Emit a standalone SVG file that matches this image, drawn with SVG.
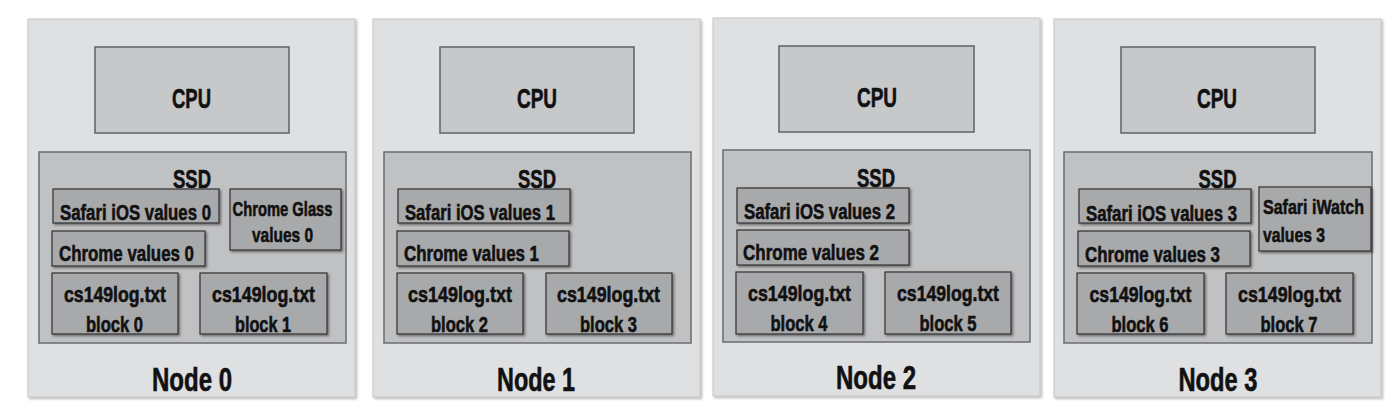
<svg xmlns="http://www.w3.org/2000/svg" width="1398" height="420" viewBox="0 0 1398 420">
<defs>
<filter id="sh" x="-10%" y="-10%" width="125%" height="130%">
<feDropShadow dx="1.5" dy="1.5" stdDeviation="1.2" flood-color="#000" flood-opacity="0.45"/>
</filter>
<filter id="psh" x="-5%" y="-5%" width="110%" height="110%">
<feDropShadow dx="1.5" dy="1.5" stdDeviation="1" flood-color="#000" flood-opacity="0.3"/>
</filter>
</defs>
<style>
.panel{fill:#dfe0e2;stroke:#c4c5c7;stroke-width:1;filter:url(#psh)}
.cpu{fill:#c7c8c9;stroke:#5f6062;stroke-width:1.5}
.ssd{fill:#c0c1c3;stroke:#6a6b6d;stroke-width:1.5}
.box{fill:#a8a9ab;stroke:#333;stroke-width:1.2;filter:url(#sh)}
text{font-family:"Liberation Sans",Arial,sans-serif;font-weight:bold;fill:#111;stroke:#111;stroke-width:0.6}
.big{font-size:28px;text-anchor:middle}
.ssdl{font-size:25px;text-anchor:middle}
.lbl{font-size:22.5px}
.sm{font-size:21px}
.mid{text-anchor:middle}
.node{font-size:33px;text-anchor:middle}
</style>
<g id="connectors"/>

<g id="node0">
<rect class="panel" x="28" y="19" width="327" height="378"/>
<g id="cpu0"><rect class="cpu" x="95" y="47" width="194" height="86"/><text class="big" x="191.5" y="108" textLength="39" lengthAdjust="spacingAndGlyphs">CPU</text></g>
<g id="ssd0"><rect class="ssd" x="39" y="152" width="307" height="191"/><text class="ssdl" x="192" y="188" textLength="38" lengthAdjust="spacingAndGlyphs">SSD</text></g>
<g id="safari0"><rect class="box" x="53" y="189" width="166" height="34"/><text class="lbl" transform="translate(60,219.5) scale(0.745,1)" x="0" y="0" textLength="202.7" lengthAdjust="spacingAndGlyphs">Safari iOS values 0</text></g>
<g id="glass0"><rect class="box" x="230" y="189" width="111" height="61"/><text class="sm mid" x="282.5" y="216" textLength="100" lengthAdjust="spacingAndGlyphs">Chrome Glass</text><text class="sm mid" x="282.5" y="242" textLength="61" lengthAdjust="spacingAndGlyphs">values 0</text></g>
<g id="chrome0"><rect class="box" x="52" y="231" width="153" height="35"/><text class="lbl" x="59" y="261" textLength="135" lengthAdjust="spacingAndGlyphs">Chrome values 0</text></g>
<g id="block0"><rect class="box" x="52" y="273" width="126" height="61"/><text class="lbl mid" x="115" y="302" textLength="102" lengthAdjust="spacingAndGlyphs">cs149log.txt</text><text class="lbl mid" x="114.5" y="332" textLength="57" lengthAdjust="spacingAndGlyphs">block 0</text></g>
<g id="block1"><rect class="box" x="200" y="273" width="127" height="61"/><text class="lbl mid" x="263.5" y="302" textLength="103" lengthAdjust="spacingAndGlyphs">cs149log.txt</text><text class="lbl mid" x="263" y="332" textLength="56" lengthAdjust="spacingAndGlyphs">block 1</text></g>
<text class="node" x="192" y="391" textLength="80" lengthAdjust="spacingAndGlyphs">Node 0</text>
</g>

<g id="node1">
<rect class="panel" x="373" y="19" width="327" height="378"/>
<g id="cpu1"><rect class="cpu" x="440" y="47" width="194" height="86"/><text class="big" x="537" y="108" textLength="40" lengthAdjust="spacingAndGlyphs">CPU</text></g>
<g id="ssd1"><rect class="ssd" x="384" y="152" width="307" height="191"/><text class="ssdl" x="537" y="188" textLength="38" lengthAdjust="spacingAndGlyphs">SSD</text></g>
<g id="safari1"><rect class="box" x="398" y="189" width="172" height="34"/><text class="lbl" x="405" y="220" textLength="150" lengthAdjust="spacingAndGlyphs">Safari iOS values 1</text></g>
<g id="chrome1"><rect class="box" x="397" y="231" width="172" height="35"/><text class="lbl" x="404" y="261" textLength="135" lengthAdjust="spacingAndGlyphs">Chrome values 1</text></g>
<g id="block2"><rect class="box" x="397" y="273" width="126" height="61"/><text class="lbl mid" x="460" y="302" textLength="104" lengthAdjust="spacingAndGlyphs">cs149log.txt</text><text class="lbl mid" x="459.5" y="332" textLength="57" lengthAdjust="spacingAndGlyphs">block 2</text></g>
<g id="block3"><rect class="box" x="546" y="273" width="126" height="61"/><text class="lbl mid" x="608.5" y="302" textLength="103" lengthAdjust="spacingAndGlyphs">cs149log.txt</text><text class="lbl mid" x="608.5" y="332" textLength="57" lengthAdjust="spacingAndGlyphs">block 3</text></g>
<text class="node" x="536" y="391" textLength="78" lengthAdjust="spacingAndGlyphs">Node 1</text>
</g>

<g id="node2">
<rect class="panel" x="713" y="18" width="327" height="378"/>
<g id="cpu2"><rect class="cpu" x="779" y="46" width="195" height="86"/><text class="big" x="877" y="107" textLength="40" lengthAdjust="spacingAndGlyphs">CPU</text></g>
<g id="ssd2"><rect class="ssd" x="723" y="150" width="307" height="192"/><text class="ssdl" x="876" y="187" textLength="38" lengthAdjust="spacingAndGlyphs">SSD</text></g>
<g id="safari2"><rect class="box" x="737" y="188" width="172" height="35"/><text class="lbl" x="744" y="219" textLength="151" lengthAdjust="spacingAndGlyphs">Safari iOS values 2</text></g>
<g id="chrome2"><rect class="box" x="737" y="230" width="172" height="35"/><text class="lbl" x="743" y="260" textLength="136" lengthAdjust="spacingAndGlyphs">Chrome values 2</text></g>
<g id="block4"><rect class="box" x="736" y="272" width="127" height="62"/><text class="lbl mid" x="799.5" y="301" textLength="103" lengthAdjust="spacingAndGlyphs">cs149log.txt</text><text class="lbl mid" x="799" y="331" textLength="57" lengthAdjust="spacingAndGlyphs">block 4</text></g>
<g id="block5"><rect class="box" x="885" y="272" width="126" height="62"/><text class="lbl mid" x="948" y="301" textLength="102" lengthAdjust="spacingAndGlyphs">cs149log.txt</text><text class="lbl mid" x="948" y="331" textLength="57" lengthAdjust="spacingAndGlyphs">block 5</text></g>
<text class="node" x="876" y="389" textLength="80" lengthAdjust="spacingAndGlyphs">Node 2</text>
</g>

<g id="node3">
<rect class="panel" x="1054" y="19" width="327" height="378"/>
<g id="cpu3"><rect class="cpu" x="1121" y="47" width="194" height="86"/><text class="big" x="1217" y="108" textLength="40" lengthAdjust="spacingAndGlyphs">CPU</text></g>
<g id="ssd3"><rect class="ssd" x="1064" y="152" width="308" height="191"/><text class="ssdl" x="1217.5" y="188" textLength="38" lengthAdjust="spacingAndGlyphs">SSD</text></g>
<g id="safari3"><rect class="box" x="1079" y="189" width="172" height="34"/><text class="lbl" transform="translate(1086,220.5) scale(0.745,1)" x="0" y="0" textLength="202.7" lengthAdjust="spacingAndGlyphs">Safari iOS values 3</text></g>
<g id="iwatch3"><rect class="box" x="1259" y="187" width="112" height="64"/><text class="sm" x="1263" y="214" textLength="101" lengthAdjust="spacingAndGlyphs">Safari iWatch</text><text class="sm" x="1263" y="242" textLength="62" lengthAdjust="spacingAndGlyphs">values 3</text></g>
<g id="chrome3"><rect class="box" x="1078" y="231" width="172" height="35"/><text class="lbl" x="1085" y="261.5" textLength="135" lengthAdjust="spacingAndGlyphs">Chrome values 3</text></g>
<g id="block6"><rect class="box" x="1077" y="273" width="127" height="61"/><text class="lbl mid" x="1140.5" y="302" textLength="102" lengthAdjust="spacingAndGlyphs">cs149log.txt</text><text class="lbl mid" x="1140" y="332" textLength="57" lengthAdjust="spacingAndGlyphs">block 6</text></g>
<g id="block7"><rect class="box" x="1226" y="273" width="127" height="61"/><text class="lbl mid" x="1289.5" y="302" textLength="103" lengthAdjust="spacingAndGlyphs">cs149log.txt</text><text class="lbl mid" x="1289" y="332" textLength="57" lengthAdjust="spacingAndGlyphs">block 7</text></g>
<text class="node" x="1218" y="391" textLength="79" lengthAdjust="spacingAndGlyphs">Node 3</text>
</g>
</svg>
